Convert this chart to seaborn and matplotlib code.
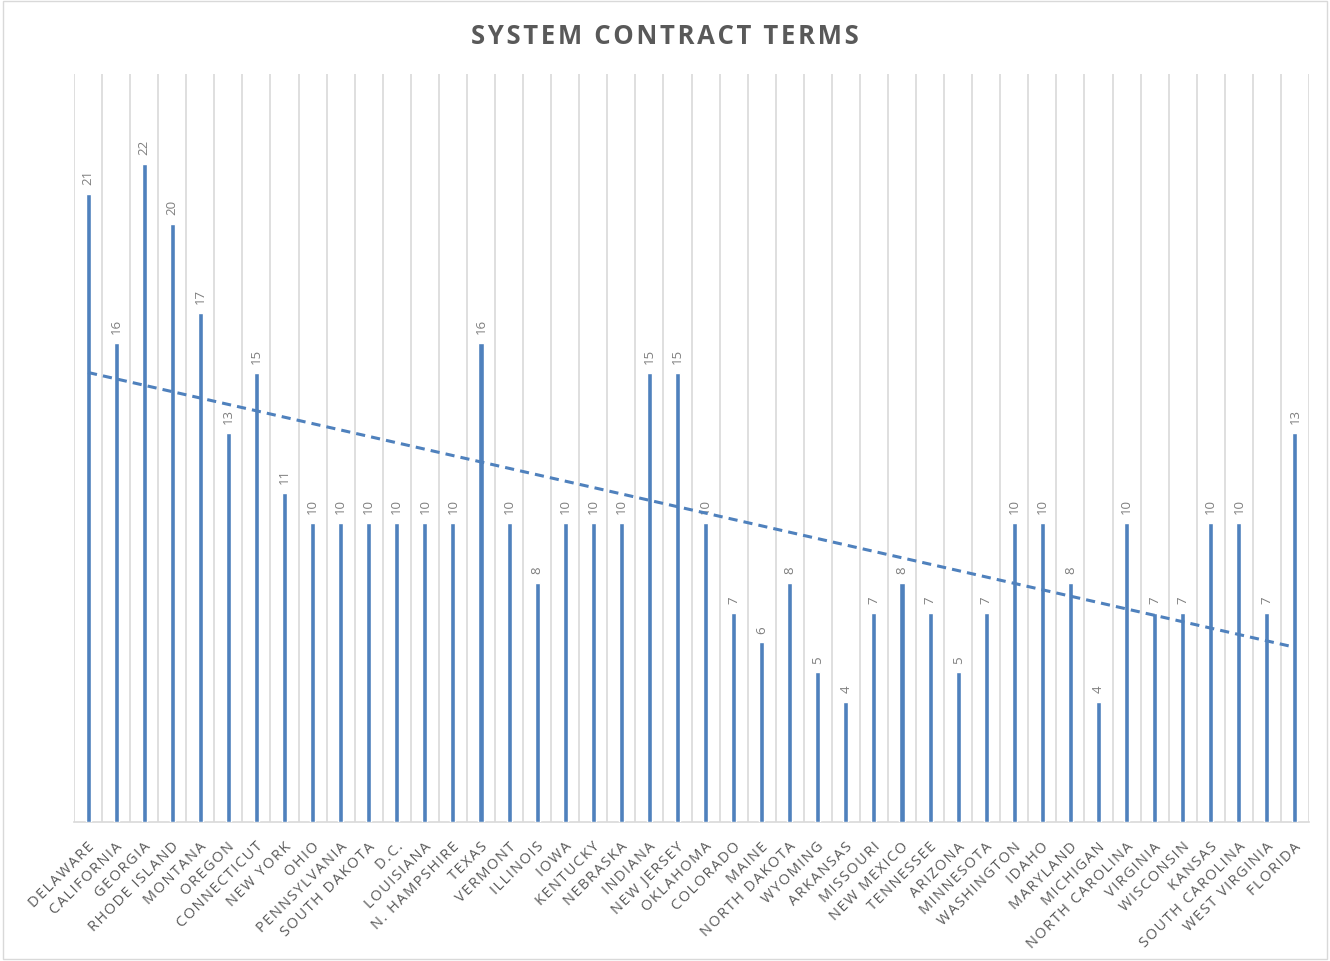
import numpy as np
import pandas as pd
import matplotlib
matplotlib.use("Agg")
import matplotlib.pyplot as plt
import matplotlib.transforms as mtransforms
import seaborn as sns

states = [
    "DELAWARE", "CALIFORNIA", "GEORGIA", "RHODE ISLAND", "MONTANA", "OREGON",
    "CONNECTICUT", "NEW YORK", "OHIO", "PENNSYLVANIA", "SOUTH DAKOTA", "D.C.",
    "LOUISIANA", "N. HAMPSHIRE", "TEXAS", "VERMONT", "ILLINOIS", "IOWA",
    "KENTUCKY", "NEBRASKA", "INDIANA", "NEW JERSEY", "OKLAHOMA", "COLORADO",
    "MAINE", "NORTH DAKOTA", "WYOMING", "ARKANSAS", "MISSOURI", "NEW MEXICO",
    "TENNESSEE", "ARIZONA", "MINNESOTA", "WASHINGTON", "IDAHO", "MARYLAND",
    "MICHIGAN", "NORTH CAROLINA", "VIRGINIA", "WISCONSIN", "KANSAS",
    "SOUTH CAROLINA", "WEST VIRGINIA", "FLORIDA",
]
terms = [
    21, 16, 22, 20, 17, 13, 15, 11, 10, 10, 10, 10, 10, 10, 16, 10, 8, 10,
    10, 10, 15, 15, 10, 7, 6, 8, 5, 4, 7, 8, 7, 5, 7, 10, 10, 8, 4, 10, 7,
    7, 10, 10, 7, 13,
]
title = "SYSTEM CONTRACT TERMS"

bar_color = "#4F81BD"
text_gray = "#595959"
label_gray = "#7F7F7F"
grid_gray = "#D9D9D9"

HAIR = "\u200a"


def tracked(s):
    """Widen letter spacing by putting a hair space between characters."""
    return HAIR.join(s)


sns.set_theme(style="white")
plt.rcParams["font.family"] = ["Open Sans", "DejaVu Sans"]

df = pd.DataFrame({"state": states, "term": terms})

fig = plt.figure(figsize=(13.3, 9.62), dpi=100)
ax = fig.add_axes([74 / 1330, 1 - 823 / 962, (1309 - 74) / 1330, (823 - 75) / 962])

sns.barplot(data=df, x="state", y="term", color=bar_color, width=0.18,
            saturation=1, ax=ax, zorder=3)

n = len(states)
ax.set_xlim(-0.5, n - 0.5)
ax.set_ylim(0, 25)

# category gridlines between the bars
for b in np.arange(-0.5, n, 1.0):
    ax.axvline(b, color=grid_gray, lw=1.2, zorder=1)

# value labels above each bar
for i, v in enumerate(terms):
    ax.text(i, v + 0.33, str(v), rotation=90, ha="center", va="bottom",
            fontsize=9.5, color=label_gray, zorder=4)

# linear trend line
xs = np.arange(n)
slope, intercept = np.polyfit(xs, terms, 1)
ax.plot([0, n - 1], [intercept, intercept + slope * (n - 1)],
        ls=(0, (3, 2)), color=bar_color, lw=2.2, zorder=5)

ax.set_xlabel("")
ax.set_ylabel("")
ax.set_yticks([])
ax.tick_params(axis="x", length=0, pad=4)
ax.set_xticks(range(n))
ax.set_xticklabels([tracked(s) for s in states], rotation=45, ha="right",
                   va="top", rotation_mode="anchor", fontsize=10.5, color=text_gray)
for lab in ax.get_xticklabels():
    lab.set_transform(lab.get_transform() +
                      mtransforms.ScaledTranslation(-0.01, -0.11, fig.dpi_scale_trans))

for side in ["top", "left", "right"]:
    ax.spines[side].set_visible(False)
ax.spines["bottom"].set_color(grid_gray)
ax.spines["bottom"].set_linewidth(1.2)

fig.text(665 / 1330, 1 - 36 / 962, tracked(title), ha="center",
         va="center", fontsize=18.5, fontweight="bold", color=text_gray)

# thin chart frame
fig.patches.append(plt.Rectangle((0.002, 0.002), 0.996, 0.996, transform=fig.transFigure,
                                 fill=False, edgecolor=grid_gray, lw=1))

fig.savefig("out.png", dpi=100)
